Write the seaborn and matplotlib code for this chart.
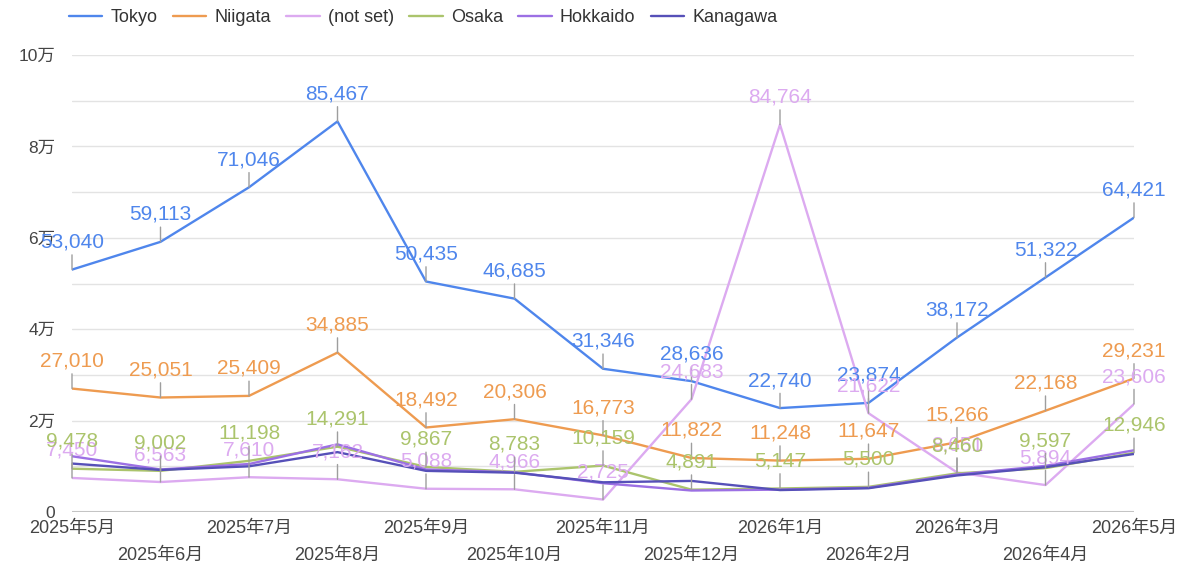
import pandas as pd
import matplotlib.pyplot as plt
import seaborn as sns
from matplotlib.lines import Line2D

months = ['2025年5月', '2025年6月', '2025年7月', '2025年8月', '2025年9月', '2025年10月',
          '2025年11月', '2025年12月', '2026年1月', '2026年2月', '2026年3月', '2026年4月', '2026年5月']

tokyo = [53040, 59113, 71046, 85467, 50435, 46685, 31346, 28636, 22740, 23874, 38172, 51322, 64421]
niigata = [27010, 25051, 25409, 34885, 18492, 20306, 16773, 11822, 11248, 11647, 15266, 22168, 29231]
not_set = [7450, 6563, 7610, 7162, 5088, 4966, 2725, 24683, 84764, 21622, 8651, 5894, 23606]
osaka = [9478, 9002, 11198, 14291, 9867, 8783, 10159, 4891, 5147, 5500, 8460, 9597, 12946]
hokkaido = [12200, 9300, 10500, 14800, 9300, 8700, 6300, 4700, 4900, 5300, 8200, 10100, 13500]
kanagawa = [10600, 9200, 10000, 13100, 9000, 8600, 6500, 6800, 4800, 5200, 8000, 9800, 12700]

series = ['Tokyo', 'Niigata', '(not set)', 'Osaka', 'Hokkaido', 'Kanagawa']
values = [tokyo, niigata, not_set, osaka, hokkaido, kanagawa]
colors = ['#4f86ec', '#ee9b50', '#dcaaf0', '#abc46c', '#9c70e4', '#5650b8']
labelled = ['Tokyo', 'Niigata', '(not set)', 'Osaka']

rows = []
for name, vals in zip(series, values):
    for i, v in enumerate(vals):
        rows.append({'month': i, 'series': name, 'users': v})
df = pd.DataFrame(rows)

sns.set_theme(style='white')
plt.rcParams['font.family'] = ['Liberation Sans', 'Noto Sans CJK JP']

fig = plt.figure(figsize=(11.77, 5.67), dpi=100)
ax = fig.add_axes([72 / 1177, 1 - 512 / 567, (1134 - 72) / 1177, (512 - 55) / 567])

sns.lineplot(data=df, x='month', y='users', hue='series', hue_order=series,
             palette=colors, linewidth=1.7, ax=ax, legend=False)

# data labels with small gray stems
for name, vals, c in zip(series, values, colors):
    if name not in labelled:
        continue
    for i, v in enumerate(vals):
        ax.annotate(f'{v:,}', xy=(i, v), xytext=(0, 18), textcoords='offset pixels',
                    ha='center', va='bottom', color=c, fontsize=15, zorder=5,
                    annotation_clip=False,
                    arrowprops=dict(arrowstyle='-', color='#9e9e9e', lw=1,
                                    shrinkA=0, shrinkB=0, relpos=(0.5, 0)))

ax.set_xlim(0, 12)
ax.set_ylim(0, 100000)
ax.set_yticks(range(0, 100001, 20000))
ax.set_yticklabels(['0', '2万', '4万', '6万', '8万', '10万'], fontsize=12.5, color='#444444')
ax.set_yticks(range(10000, 100000, 20000), minor=True)
ax.grid(axis='y', which='both', color='#e3e3e3', lw=1)
ax.axhline(0, color='#c4c4c4', lw=1.5, zorder=1)
ax.set_xticks(range(len(months)))
ax.set_xticklabels(months, fontsize=13, color='#444444')
ax.tick_params(axis='y', length=0, pad=12)
ax.tick_params(axis='x', length=0, pad=6)
for j, t in enumerate(ax.xaxis.get_major_ticks()):
    if j % 2 == 1:
        t.set_pad(25)
ax.set_xlabel('')
ax.set_ylabel('')
sns.despine(left=True, bottom=True)

handles = [Line2D([], [], color=c, lw=1.7) for c in colors]
fig.legend(handles, series, loc='center left', bbox_to_anchor=(60 / 1177, 1 - 18 / 567),
           ncol=6, frameon=False, fontsize=13, handlelength=1.85, handletextpad=0.45,
           columnspacing=0.85, borderpad=0, labelcolor='#333333')

fig.savefig('out.png', dpi=100)
